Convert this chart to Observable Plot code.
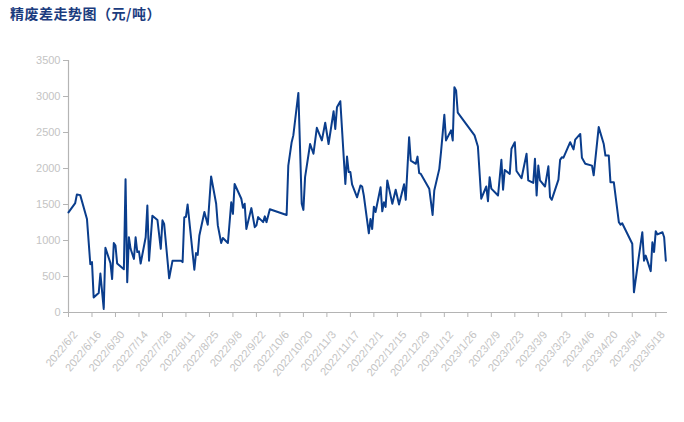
<!DOCTYPE html>
<html><head><meta charset="utf-8">
<script src="https://cdn.jsdelivr.net/npm/d3@7"></script>
<script src="https://cdn.jsdelivr.net/npm/@observablehq/plot@0.6"></script>
<style>
body{margin:0;background:#fff;}
#wrap{position:relative;width:684px;height:422px;}
#title{position:absolute;left:10px;top:3px;font-family:"Noto Sans CJK SC",sans-serif;font-weight:bold;font-size:14px;color:#1b3c7e;letter-spacing:0.5px;z-index:2;}
</style></head><body><div id="wrap"><div id="title">精废差走势图（元/吨）</div></div>
<script>
const dates = ["2022-06-02","2022-06-06","2022-06-07","2022-06-09","2022-06-13","2022-06-15","2022-06-16","2022-06-17","2022-06-20","2022-06-21","2022-06-23","2022-06-24","2022-06-27","2022-06-28","2022-06-29","2022-06-30","2022-07-01","2022-07-05","2022-07-06","2022-07-07","2022-07-08","2022-07-09","2022-07-11","2022-07-12","2022-07-13","2022-07-14","2022-07-15","2022-07-18","2022-07-19","2022-07-20","2022-07-22","2022-07-25","2022-07-27","2022-07-28","2022-07-29","2022-08-01","2022-08-03","2022-08-08","2022-08-09","2022-08-10","2022-08-11","2022-08-12","2022-08-16","2022-08-17","2022-08-18","2022-08-19","2022-08-22","2022-08-24","2022-08-26","2022-08-29","2022-08-30","2022-09-01","2022-09-02","2022-09-05","2022-09-07","2022-09-08","2022-09-09","2022-09-13","2022-09-14","2022-09-15","2022-09-16","2022-09-19","2022-09-21","2022-09-22","2022-09-23","2022-09-26","2022-09-27","2022-09-28","2022-09-30","2022-10-10","2022-10-11","2022-10-13","2022-10-14","2022-10-17","2022-10-19","2022-10-20","2022-10-21","2022-10-24","2022-10-26","2022-10-28","2022-10-31","2022-11-02","2022-11-04","2022-11-07","2022-11-08","2022-11-09","2022-11-11","2022-11-14","2022-11-15","2022-11-16","2022-11-17","2022-11-18","2022-11-21","2022-11-23","2022-11-24","2022-11-25","2022-11-28","2022-11-29","2022-11-30","2022-12-01","2022-12-02","2022-12-05","2022-12-06","2022-12-07","2022-12-08","2022-12-09","2022-12-12","2022-12-14","2022-12-16","2022-12-19","2022-12-20","2022-12-22","2022-12-23","2022-12-26","2022-12-27","2022-12-28","2022-12-29","2023-01-03","2023-01-05","2023-01-06","2023-01-09","2023-01-10","2023-01-12","2023-01-13","2023-01-16","2023-01-17","2023-01-18","2023-01-19","2023-01-20","2023-01-30","2023-02-01","2023-02-03","2023-02-06","2023-02-07","2023-02-08","2023-02-09","2023-02-13","2023-02-15","2023-02-16","2023-02-17","2023-02-20","2023-02-21","2023-02-23","2023-02-24","2023-02-27","2023-03-02","2023-03-03","2023-03-06","2023-03-07","2023-03-08","2023-03-09","2023-03-10","2023-03-13","2023-03-15","2023-03-16","2023-03-17","2023-03-21","2023-03-22","2023-03-23","2023-03-24","2023-03-28","2023-03-30","2023-03-31","2023-04-03","2023-04-04","2023-04-06","2023-04-10","2023-04-11","2023-04-14","2023-04-17","2023-04-18","2023-04-20","2023-04-21","2023-04-23","2023-04-26","2023-04-27","2023-04-28","2023-05-04","2023-05-05","2023-05-08","2023-05-10","2023-05-11","2023-05-12","2023-05-15","2023-05-16","2023-05-17","2023-05-18","2023-05-19","2023-05-22","2023-05-23","2023-05-24"];
const values = [1390,1520,1640,1630,1300,670,700,210,270,540,50,900,685,465,965,930,680,600,1850,420,1045,885,745,1045,840,850,680,1045,1485,720,1345,1285,885,1280,1230,475,720,720,700,1320,1330,1500,595,825,800,1070,1395,1220,1890,1510,1210,965,1035,965,1530,1370,1785,1580,1455,1510,1160,1450,1185,1210,1325,1255,1335,1255,1435,1355,2040,2365,2460,3050,1510,1425,1880,2340,2205,2565,2390,2635,2340,2795,2550,2850,2935,1785,2165,1950,1950,1780,1600,1765,1750,1625,1100,1300,1160,1470,1395,1740,1405,1530,1465,1835,1510,1705,1500,1780,1565,2435,2110,2065,2165,1935,1925,1720,1355,1695,1995,2225,2745,2390,2530,2390,3130,3085,2775,2460,2305,1580,1750,1545,1880,1720,1625,2120,1705,1980,1925,2275,2365,1965,1865,2205,1835,1800,2135,1625,2040,1835,1750,2030,1600,1565,1845,2120,2155,2150,2365,2265,2400,2480,2150,2065,2040,1905,2575,2340,2180,2180,1810,1810,1255,1220,1240,955,280,790,1115,720,790,575,975,840,1130,1085,1115,1045,720];
const xTickDates = ["2022-06-02","2022-06-16","2022-06-30","2022-07-14","2022-07-28","2022-08-11","2022-08-25","2022-09-08","2022-09-22","2022-10-06","2022-10-20","2022-11-03","2022-11-17","2022-12-01","2022-12-15","2022-12-29","2023-01-12","2023-01-26","2023-02-09","2023-02-23","2023-03-09","2023-03-23","2023-04-06","2023-04-20","2023-05-04","2023-05-18"];
const yTicks = [0,500,1000,1500,2000,2500,3000,3500];
const xDomain = ["2022-06-02","2023-05-25"];

const data = dates.map((d,i)=>({date:new Date(d+"T00:00:00Z"), value:values[i]}));
const x0 = new Date(xDomain[0]+"T00:00:00Z"), x1 = new Date(xDomain[1]+"T00:00:00Z");
const xTicks = xTickDates.map(d=>new Date(d+"T00:00:00Z"));
const fmt = d3.utcFormat("%Y/%-m/%-d");
const axisColor = "#b4b4b4", textColor = "#c4c4c4";

const chart = Plot.plot({
  width:684, height:422,
  marginLeft:68, marginRight:17, marginTop:60, marginBottom:110,
  style:{fontFamily:"'Liberation Sans', Arial, sans-serif", fontSize:"11px", background:"white", overflow:"visible"},
  x:{type:"utc", domain:[x0,x1]},
  y:{domain:[0,3500]},
  marks:[
    Plot.axisY({ticks:yTicks, tickSize:5, tickPadding:3, tickFormat:d=>String(d), stroke:axisColor, fill:textColor, label:null}),
    Plot.axisX({ticks:xTicks, tickSize:5, tickFormat:fmt, stroke:axisColor, fill:"none", label:null}),
    Plot.axisX({ticks:xTicks, tickSize:0, tickPadding:4, tickFormat:fmt, tickRotate:-50, fill:textColor, dx:7, dy:16, label:null}),
    Plot.ruleY([0], {stroke:axisColor, strokeWidth:1.2}),
    Plot.ruleX([x0], {y1:0, y2:3500, stroke:axisColor, strokeWidth:1.2}),
    Plot.line(data, {x:"date", y:"value", stroke:"#0a3d8c", strokeWidth:2, strokeLinejoin:"round"})
  ]
});
document.getElementById("wrap").appendChild(chart);
chart.style.position="absolute"; chart.style.left="0"; chart.style.top="0";
</script></body></html>
